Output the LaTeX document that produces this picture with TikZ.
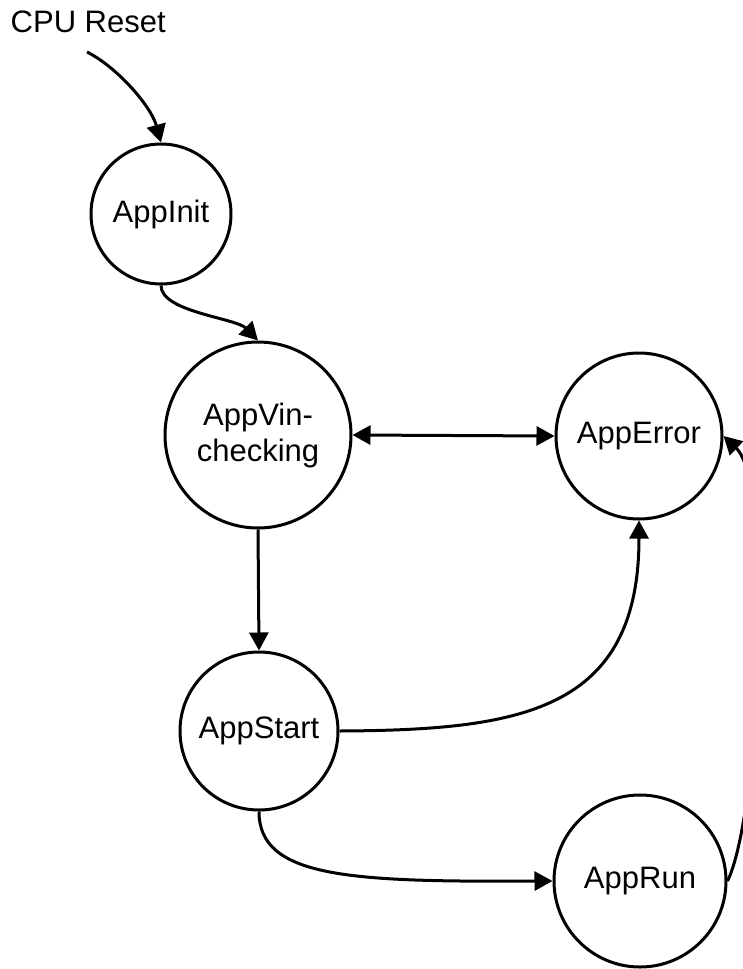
\documentclass[tikz,border=0pt]{standalone}
\usepackage{fontspec}
\setmainfont{Liberation Sans}
\usetikzlibrary{arrows.meta}
\begin{document}
\begin{tikzpicture}[x=1pt,y=-1pt,
  state/.style={draw, circle, line width=3pt, inner sep=0pt, align=center,
    font=\fontsize{31}{36}\selectfont},
  tip/.tip={Triangle[length=18pt,width=19pt]},
  flow/.style={line width=3pt, -tip},
  both/.style={line width=3pt, tip-tip},
  caption/.style={inner sep=0pt, font=\fontsize{31}{36}\selectfont}]
\clip (0,0) rectangle (743,969);
\fill[white] (0,0) rectangle (743,969);

% states
\node[state, minimum size=140pt] (init)  at (161,214) {AppInit};
\node[state, minimum size=186pt] (vin)   at (258,435) {AppVin-\\checking};
\node[state, minimum size=166pt] (err)   at (639,436) {AppError};
\node[state, minimum size=158pt] (start) at (259,731) {AppStart};
\node[state, minimum size=172pt] (run)   at (640,881) {AppRun};

% reset entry
\node[caption, anchor=base west] (reset) at (10.5,32.5) {CPU Reset};
\coordinate (resetfrom) at (87,52);

% transitions
\draw[flow] (resetfrom) .. controls (117,67) and (151,106) .. (init.north);
\draw[flow] (init.south) .. controls (161,312) and (236,318) .. (vin.north);
\draw[both] (vin.east) -- (err.west);
\draw[flow] (vin.south) -- (start.north);
\draw[flow] (start.east) .. controls (520,730) and (639,712) .. (err.south);
\draw[flow] (start.south) .. controls (259,878) and (350,882) .. (run.west);
\draw[flow] (run.east) .. controls (760,815) and (775,485) .. (err.east);
\end{tikzpicture}
\end{document}
